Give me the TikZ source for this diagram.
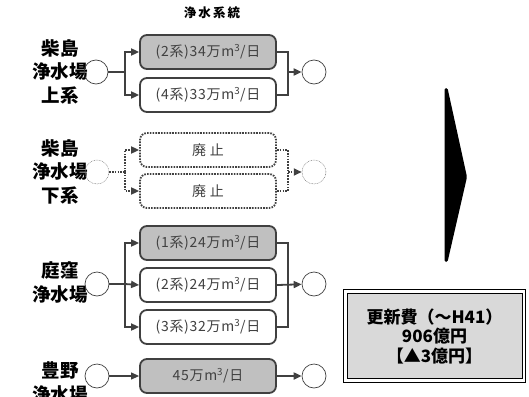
\documentclass[tikz,border=0pt]{standalone}
\usepackage{fontspec}
\setmainfont{Noto Sans CJK JP}
\newfontfamily\jp{Noto Sans CJK JP}
\newfontfamily\jpw[LetterSpace=5]{Noto Sans CJK JP}
\usetikzlibrary{arrows.meta}
\definecolor{dk}{HTML}{404040}
\definecolor{bxfill}{HTML}{C0C0C0}
\definecolor{pane}{HTML}{D9D9D9}
\tikzset{
 sbox/.style={draw=dk, line width=1.8pt, rounded corners=7pt, minimum width=136pt, minimum height=34pt, inner sep=0pt, text=dk, font=\jpw\fontsize{14}{16}\selectfont},
 gbox/.style={sbox, fill=bxfill},
 wbox/.style={sbox, fill=white},
 dbox/.style={sbox, dash pattern=on 1.6pt off 1.2pt},
 circ/.style={circle, draw=dk, line width=0.7pt, minimum size=24pt, inner sep=0pt},
 dcirc/.style={circ, draw=gray, line width=0.5pt, dash pattern=on 0.8pt off 0.8pt},
 conn/.style={draw=dk, line width=1.8pt},
 arr/.style={conn, -{Triangle[length=8pt,width=7pt]}},
 dconn/.style={conn, dash pattern=on 1.6pt off 1.2pt},
 darr/.style={arr, dash pattern=on 1.6pt off 1.2pt},
 tconn/.style={draw=dk, line width=1.1pt},
 tarr/.style={tconn, -{Triangle[length=8pt,width=7pt]}},
 lbl/.style={font=\jp\bfseries\fontsize{18.5}{23.5}\selectfont, align=center, inner sep=0pt},
}
\begin{document}
\begin{tikzpicture}[x=1pt,y=-1pt]
\useasboundingbox (0,0) rectangle (529,396);
\clip (0,0) rectangle (529,396);
\node[font=\jp\bfseries\fontsize{12.5}{14}\selectfont, inner sep=0pt] (title) at (212,13) {浄\,水\,系\,統};

% Section 1
\node[lbl] (l1) at (60,71.5) {柴島\\浄水場\\上系};
\node[circ] (lc1) at (96,72) {};
\node[circ] (rc1) at (314,72) {};
\node[gbox] (b11) at (208,52) {(2系)34万m\textsuperscript{3}/日};
\node[wbox] (b12) at (208,95) {(4系)33万m\textsuperscript{3}/日};
\coordinate (s1) at (125,72);
\coordinate (m1) at (288,72);
\draw[conn] (lc1) -- (s1);
\draw[arr] (s1) |- (b11.west);
\draw[arr] (s1) |- (b12.west);
\draw[conn] (b11.east) -| (m1);
\draw[conn] (b12.east) -| (m1);
\draw[arr] (m1) -- (rc1);

% Section 2
\node[lbl] (l2) at (60,171.5) {柴島\\浄水場\\下系};
\node[dcirc] (lc2) at (97,172) {};
\node[dcirc] (rc2) at (314,172) {};
\node[dbox] (b21) at (208,150) {廃\ 止};
\node[dbox] (b22) at (208,191) {廃\ 止};
\coordinate (s2) at (125,172);
\coordinate (m2) at (288,172);
\draw[dconn] (lc2) -- (s2);
\draw[darr] (s2) |- (b21.west);
\draw[darr] (s2) |- (b22.west);
\draw[dconn] (b21.east) -| (m2);
\draw[dconn] (b22.east) -| (m2);
\draw[darr] (m2) -- (rc2);

% Section 3
\node[lbl] (l3) at (60,282.5) {庭窪\\浄水場};
\node[circ] (lc3) at (97,284) {};
\node[circ] (rc3) at (314,284) {};
\node[gbox] (b31) at (208,243) {(1系)24万m\textsuperscript{3}/日};
\node[wbox] (b32) at (208,285) {(2系)24万m\textsuperscript{3}/日};
\node[wbox] (b33) at (208,327) {(3系)32万m\textsuperscript{3}/日};
\coordinate (s3) at (125,284);
\coordinate (m3) at (288,284);
\draw[conn] (lc3) -- (s3);
\draw[arr] (s3) |- (b31.west);
\draw[arr] (s3) -- (b32.west);
\draw[arr] (s3) |- (b33.west);
\draw[conn] (b31.east) -| (m3);
\draw[conn] (b33.east) -| (m3);
\draw[arr] (b32.east) -- (rc3);

% Section 4
\node[lbl] (l4) at (60,382.5) {豊野\\浄水場};
\node[circ] (lc4) at (97,376) {};
\node[circ] (rc4) at (314,376) {};
\node[gbox] (b41) at (208,376) {45万m\textsuperscript{3}/日};
\draw[tarr] (lc4) -- (b41);
\draw[arr] (b41) -- (rc4);

% Big arrow
\fill[black, rounded corners=1.5pt] (444.5,88) -- (447.5,88) -- (467,177) -- (447.5,262) -- (444.5,262) -- cycle;

% Cost box
\node[draw=black, line width=0.8pt, fill=white, minimum width=182pt, minimum height=93pt, inner sep=0pt] (outer) at (434,335.5) {};
\node[draw=black, line width=0.8pt, fill=pane, minimum width=175pt, minimum height=85pt, inner sep=0pt, font=\jp\bfseries\fontsize{17}{19.5}\selectfont, align=center] (cost) at (434.5,336) {更新費（～H41）\\906億円\\【▲3億円】};
\end{tikzpicture}
\end{document}
